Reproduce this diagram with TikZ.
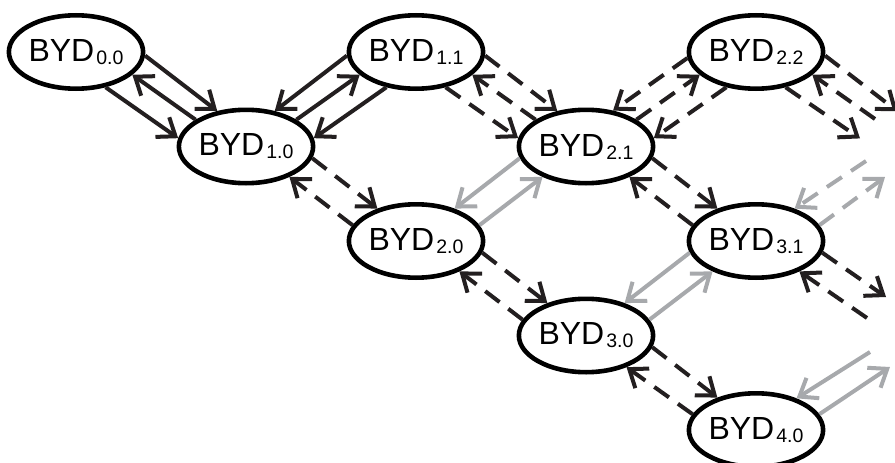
\documentclass[tikz,border=0pt]{standalone}
\usepackage{fontspec}
\setmainfont{Liberation Sans}
\usetikzlibrary{arrows.meta,shapes.geometric}
\definecolor{ink}{HTML}{231F20}
\definecolor{mist}{HTML}{A7A9AC}
% state label: BYD with a two-part index
\newcommand\bydlabel[2]{BYD\kern2pt\raisebox{-3pt}{\fontsize{19.5}{19.5}\selectfont #1.#2}}
\begin{document}
\begin{tikzpicture}[x=1pt,y=-1pt,
  state/.style={ellipse, draw=black, fill=white, line width=4.6pt,
    minimum width=130.4pt, minimum height=73.4pt, inner sep=0pt,
    font=\fontsize{32}{37}\selectfont},
  link/.style={line width=4pt, -{Straight Barb[length=16pt,width=24pt,sharp]}},
  dark/.style={link, draw=ink},
  pale/.style={link, draw=mist},
  dashes/.style={dash pattern=on 18pt off 11pt}]
\useasboundingbox (0,0) rectangle (895,463);
\clip (0,0) rectangle (895,463);

% states
\node[state] (n00) at (76,52)    {\bydlabel{0}{0}};
\node[state] (n10) at (246,146.5) {\bydlabel{1}{0}};
\node[state] (n11) at (416,52)   {\bydlabel{1}{1}};
\node[state] (n20) at (416,241)  {\bydlabel{2}{0}};
\node[state] (n21) at (586,146.5) {\bydlabel{2}{1}};
\node[state] (n22) at (756,52)   {\bydlabel{2}{2}};
\node[state] (n30) at (586,335.5) {\bydlabel{3}{0}};
\node[state] (n31) at (756,241)  {\bydlabel{3}{1}};
\node[state] (n40) at (756,430)  {\bydlabel{4}{0}};

% loose ends running off the right edge
\coordinate (a1) at (897.4,111.2);
\coordinate (a2) at (875,119);
\coordinate (a3) at (860,138.4);
\coordinate (b1) at (866,161);
\coordinate (b2) at (885,177);
\coordinate (c1) at (886,297);
\coordinate (c2) at (867,318);
\coordinate (d1) at (870,352);
\coordinate (d2) at (890,367);

% BYD0.0 <-> BYD1.0
\draw[dark] (n00.357) -- (n10.129);
\draw[dark] (n10.152) -- (n00.338);
\draw[dark] (n00.310) -- (n10.173);
% BYD1.1 <-> BYD1.0
\draw[dark] (n11.183) -- (n10.51);
\draw[dark] (n10.28)  -- (n11.202);
\draw[dark] (n11.230) -- (n10.7);
% BYD1.1 <-> BYD2.1
\draw[dark,dashes] (n11.357) -- (n21.129);
\draw[dark,dashes] (n21.152) -- (n11.338);
\draw[dark,dashes] (n11.310) -- (n21.173);
% BYD2.2 <-> BYD2.1
\draw[dark,dashes] (n22.185) -- (n21.53);
\draw[dark,dashes] (n21.28)  -- (n22.202);
\draw[dark,dashes] (n22.230) -- (n21.7);
% BYD2.2 -> onward
\draw[dark,dashes] (n22.357) -- (a1);
\draw[dark,dashes] (a2) -- (n22.338);
\draw[dark,dashes] (n22.310) -- (a3);

% BYD1.0 <-> BYD2.0
\draw[dark,dashes] (n10.350) -- (n20.140);
\draw[dark,dashes] (n20.166) -- (n10.325);
% BYD2.1 <-> BYD2.0
\draw[pale] (n21.190) -- (n20.40);
\draw[pale] (n20.14)  -- (n21.215);
% BYD2.1 <-> BYD3.1
\draw[dark,dashes] (n21.350) -- (n31.140);
\draw[dark,dashes] (n31.166) -- (n21.325);
% onward <-> BYD3.1
\draw[pale,dashes] (b1) -- (n31.40);
\draw[pale,dashes] (n31.14) -- (b2);
% BYD3.1 <-> onward
\draw[dark,dashes] (n31.350) -- (c1);
\draw[dark,dashes] (c2) -- (n31.325);
% BYD2.0 <-> BYD3.0
\draw[dark,dashes] (n20.350) -- (n30.140);
\draw[dark,dashes] (n30.166) -- (n20.325);
% BYD3.1 <-> BYD3.0
\draw[pale] (n31.190) -- (n30.40);
\draw[pale] (n30.14)  -- (n31.215);
% BYD3.0 <-> BYD4.0
\draw[dark,dashes] (n30.350) -- (n40.140);
\draw[dark,dashes] (n40.166) -- (n30.322);
% onward <-> BYD4.0
\draw[pale] (d1) -- (n40.38);
\draw[pale] (n40.14) -- (d2);
\end{tikzpicture}
\end{document}
